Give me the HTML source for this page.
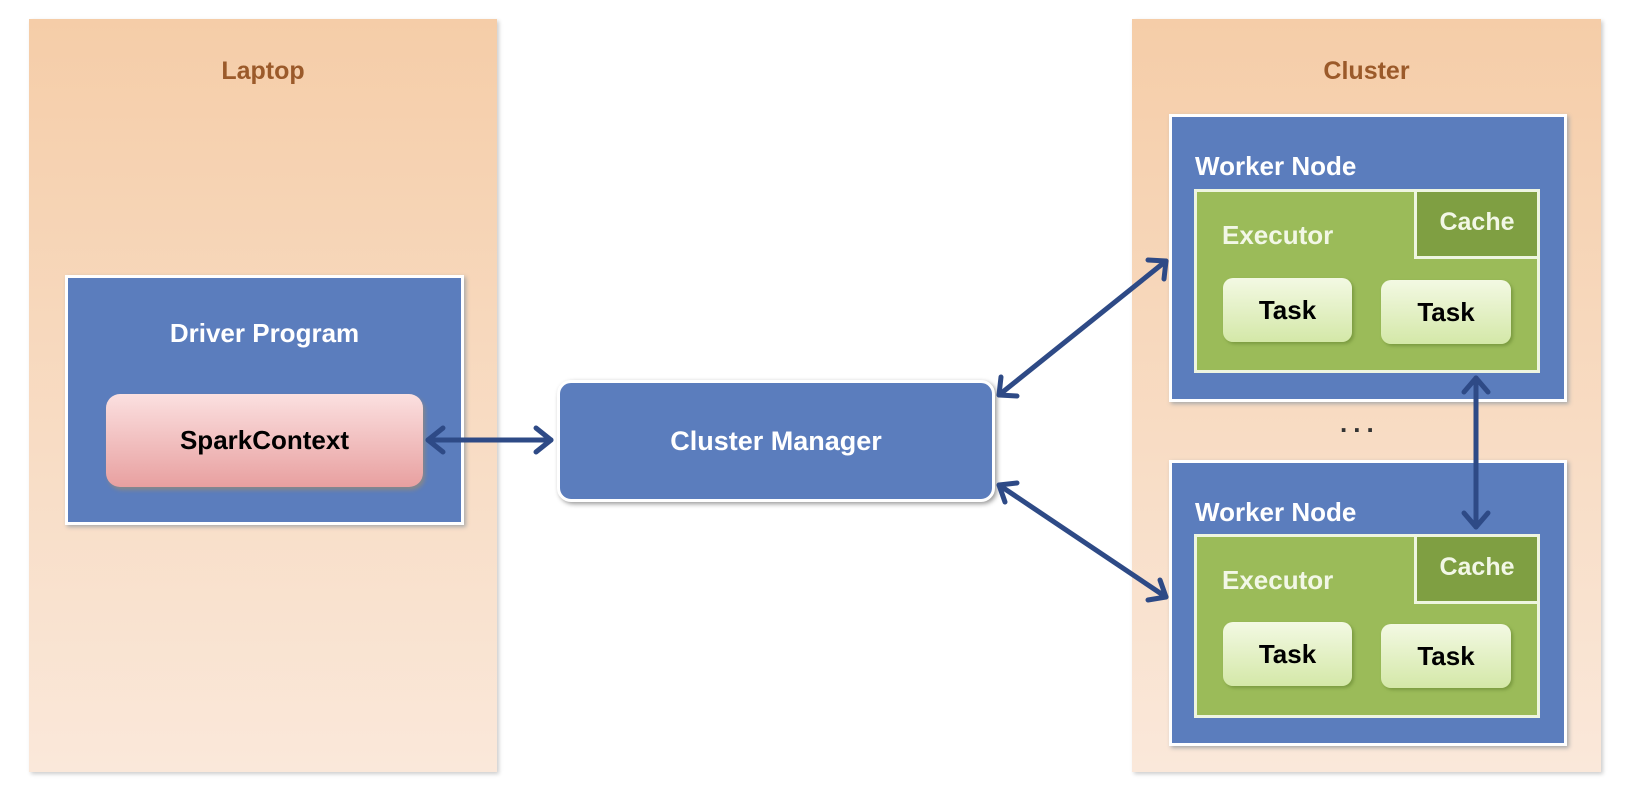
<!DOCTYPE html>
<html><head><style>
body{margin:0;width:1625px;height:805px;background:#fff;position:relative;overflow:hidden;font-family:"Liberation Sans",sans-serif;font-weight:bold}
.a{position:absolute;box-sizing:border-box}
.panel{background:linear-gradient(#f5cda8,#fae8da);box-shadow:2px 2px 4px #ccc}
.t{color:#9b5a2a;font-size:25px;text-align:center;width:100%;top:38px;position:absolute}
.blue{background:#5b7dbd;border:3px solid #fff;box-shadow:2px 2px 4px #aaa}
.green{background:#9bbb59;border:3px solid #eef5e0}
.task{background:linear-gradient(#f3f9e3,#d4e8a8);border-radius:10px;color:#000;font-size:26px;text-align:center;line-height:64px;box-shadow:2px 2px 3px #7a9a40}
.w{color:#fff;font-size:26px;position:absolute}
</style></head><body>
<div class="a panel" style="left:29px;top:19px;width:468px;height:753px"><div class="t">Laptop</div></div>
<div class="a panel" style="left:1132px;top:19px;width:469px;height:753px"><div class="t">Cluster</div></div>

<div class="a blue" style="left:65px;top:275px;width:399px;height:250px">
 <div class="w" style="top:40px;width:100%;text-align:center">Driver Program</div>
</div>
<div class="a" style="left:106px;top:394px;width:317px;height:93px;border-radius:14px;background:linear-gradient(#fbe0e0,#e8a0a0);box-shadow:2px 3px 4px #888;text-align:center;line-height:93px;font-size:26px;color:#000">SparkContext</div>

<div class="a" style="left:557px;top:380px;width:438px;height:122px;border-radius:14px;background:#5b7dbd;border:3px solid #fff;box-shadow:2px 2px 5px #999;color:#fff;font-size:27px;text-align:center;line-height:116px">Cluster Manager</div>

<div class="a blue" style="left:1169px;top:114px;width:398px;height:288px"><div class="w" style="left:23px;top:34px">Worker Node</div></div>
<div class="a green" style="left:1194px;top:189px;width:346px;height:184px"><div class="w" style="left:25px;top:28px;color:#f2f7e6">Executor</div></div>
<div class="a" style="left:1414px;top:189px;width:126px;height:70px;background:#7f9f42;border:3px solid #eef5e0;color:#f2f7e6;font-size:25px;text-align:center;line-height:60px">Cache</div>
<div class="a task" style="left:1223px;top:278px;width:129px;height:64px">Task</div>
<div class="a task" style="left:1381px;top:280px;width:130px;height:64px">Task</div>

<div class="a blue" style="left:1169px;top:460px;width:398px;height:286px"><div class="w" style="left:23px;top:34px">Worker Node</div></div>
<div class="a green" style="left:1194px;top:534px;width:346px;height:184px"><div class="w" style="left:25px;top:28px;color:#f2f7e6">Executor</div></div>
<div class="a" style="left:1414px;top:534px;width:126px;height:70px;background:#7f9f42;border:3px solid #eef5e0;color:#f2f7e6;font-size:25px;text-align:center;line-height:60px">Cache</div>
<div class="a task" style="left:1223px;top:622px;width:129px;height:64px">Task</div>
<div class="a task" style="left:1381px;top:624px;width:130px;height:64px">Task</div>

<div class="a" style="left:1340px;top:408px;font-size:26px;color:#333;letter-spacing:6px">...</div>

<svg class="a" style="left:0;top:0" width="1625" height="805">
<g stroke="#2e4a86" stroke-width="5" fill="none" stroke-linecap="round" stroke-linejoin="round">
<line x1="428" y1="440" x2="551" y2="440"/>
<polyline points="443,428 428,440 443,452"/><polyline points="536,428 551,440 536,452"/>
<line x1="999" y1="395" x2="1166" y2="261"/>
<polyline points="1001,377 999,395 1017,396"/><polyline points="1148,260 1166,261 1164,279"/>
<line x1="999" y1="485" x2="1166" y2="597"/>
<polyline points="1017,483 999,485 1005,502"/><polyline points="1160,580 1166,597 1148,600"/>
<line x1="1476" y1="378" x2="1476" y2="527"/>
<polyline points="1464,392 1476,378 1488,392"/><polyline points="1464,513 1476,527 1488,513"/>
</g></svg>
</body></html>
